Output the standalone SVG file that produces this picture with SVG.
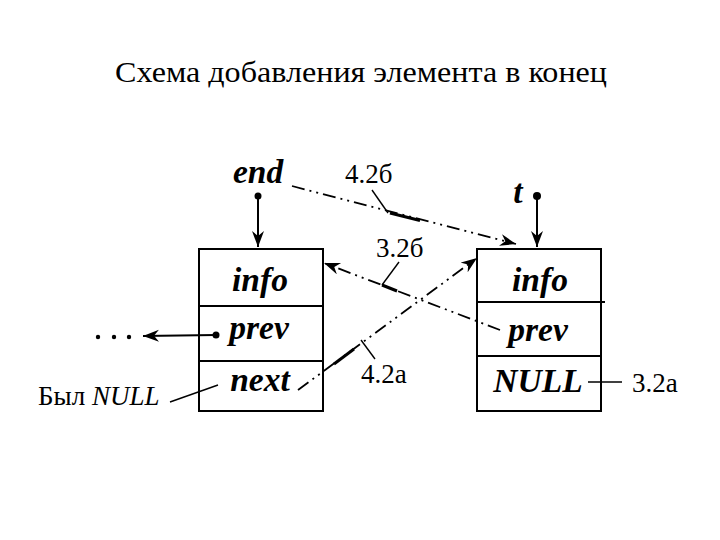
<svg xmlns="http://www.w3.org/2000/svg" width="720" height="540" viewBox="0 0 720 540">
<style>
.box{fill:#fff;stroke:#000;stroke-width:2}
.div{stroke:#000;stroke-width:2}
.fld{font-family:'Liberation Serif','DejaVu Serif',serif;font-weight:bold;font-style:italic;font-size:33.5px;fill:#000;text-anchor:middle}
.lbl{font-family:'Liberation Serif','DejaVu Serif',serif;font-size:27px;fill:#000}
.ttl{font-family:'Liberation Serif','DejaVu Serif',serif;font-size:30px;fill:#000;text-anchor:middle}
.dd{fill:none;stroke:#000;stroke-width:1.8;stroke-dasharray:13 5 2 5 2 5}
.ln{fill:none;stroke:#000;stroke-width:1.4}
.ptr{fill:none;stroke:#000;stroke-width:2}
</style>
<defs>
<marker id="ah" markerUnits="userSpaceOnUse" markerWidth="18" markerHeight="14" refX="16" refY="6" orient="auto">
<path d="M0,0 L16,6 L0,12 L5,6 Z" fill="#000"/>
</marker>
</defs>
<rect width="720" height="540" fill="#fff"/>
<text class="ttl" x="361" y="82" textLength="492" lengthAdjust="spacingAndGlyphs">Схема добавления элемента в конец</text>

<g id="node-end">
<text class="fld" x="258" y="183">end</text>
<circle cx="258" cy="196" r="3.5" fill="#000"/>
</g>
<g id="node-t">
<text class="fld" x="518" y="203">t</text>
<circle cx="537" cy="196" r="4" fill="#000"/>
</g>

<g id="node-left">
<rect class="box" x="199" y="249" width="124" height="162"/>
<line class="div" x1="199" y1="306" x2="323" y2="306"/>
<line class="div" x1="199" y1="361" x2="323" y2="361"/>
<text class="fld" x="260" y="291">info</text>
<text class="fld" x="259" y="339">prev</text>
<text class="fld" x="260" y="391">next</text>
<circle cx="216" cy="335" r="3.5" fill="#000"/>
</g>

<g id="node-right">
<rect class="box" x="477" y="249" width="124" height="162"/>
<line class="div" x1="477" y1="302" x2="605" y2="302"/>
<line class="div" x1="477" y1="356" x2="601" y2="356"/>
<text class="fld" x="540" y="291">info</text>
<text class="fld" x="538" y="341">prev</text>
<text class="fld" x="538" y="392">NULL</text>
</g>

<g id="dots">
<circle cx="98" cy="337" r="2.2" fill="#000"/>
<circle cx="114" cy="337" r="2.2" fill="#000"/>
<circle cx="129" cy="337" r="2.2" fill="#000"/>
</g>

<g id="connectors">
<line class="ptr" x1="258" y1="196" x2="258" y2="247" marker-end="url(#ah)"/>
<line class="ptr" x1="537" y1="196" x2="537" y2="247" stroke-width="2.6" marker-end="url(#ah)"/>
<line class="ptr" x1="216" y1="335" x2="143" y2="336" marker-end="url(#ah)"/>
<line class="dd" x1="292" y1="186" x2="516" y2="244" marker-end="url(#ah)"/>
<line class="dd" x1="500" y1="330" x2="324" y2="263" marker-end="url(#ah)"/>
<line class="dd" x1="298" y1="390" x2="477" y2="258" marker-end="url(#ah)"/>
<line x1="390" y1="213" x2="420" y2="220.5" stroke="#000" stroke-width="3"/>
<line x1="382" y1="285" x2="397" y2="291" stroke="#000" stroke-width="3"/>
<line x1="334" y1="364" x2="354" y2="349" stroke="#000" stroke-width="3"/>
</g>

<g id="labels">
<text class="lbl" x="345" y="183">4.2б</text>
<line class="ln" x1="372" y1="190" x2="388" y2="213"/>
<text class="lbl" x="376" y="257">3.2б</text>
<line class="ln" x1="399" y1="262" x2="382" y2="285"/>
<text class="lbl" x="361" y="383">4.2а</text>
<line class="ln" x1="361" y1="340" x2="375" y2="359"/>
<text class="lbl" x="632" y="392">3.2а</text>
<line class="ln" x1="588" y1="382" x2="622" y2="382"/>
<text class="lbl" x="38" y="405">Был <tspan font-style="italic">NULL</tspan></text>
<line class="ln" x1="170" y1="402" x2="218" y2="385"/>
</g>
</svg>
